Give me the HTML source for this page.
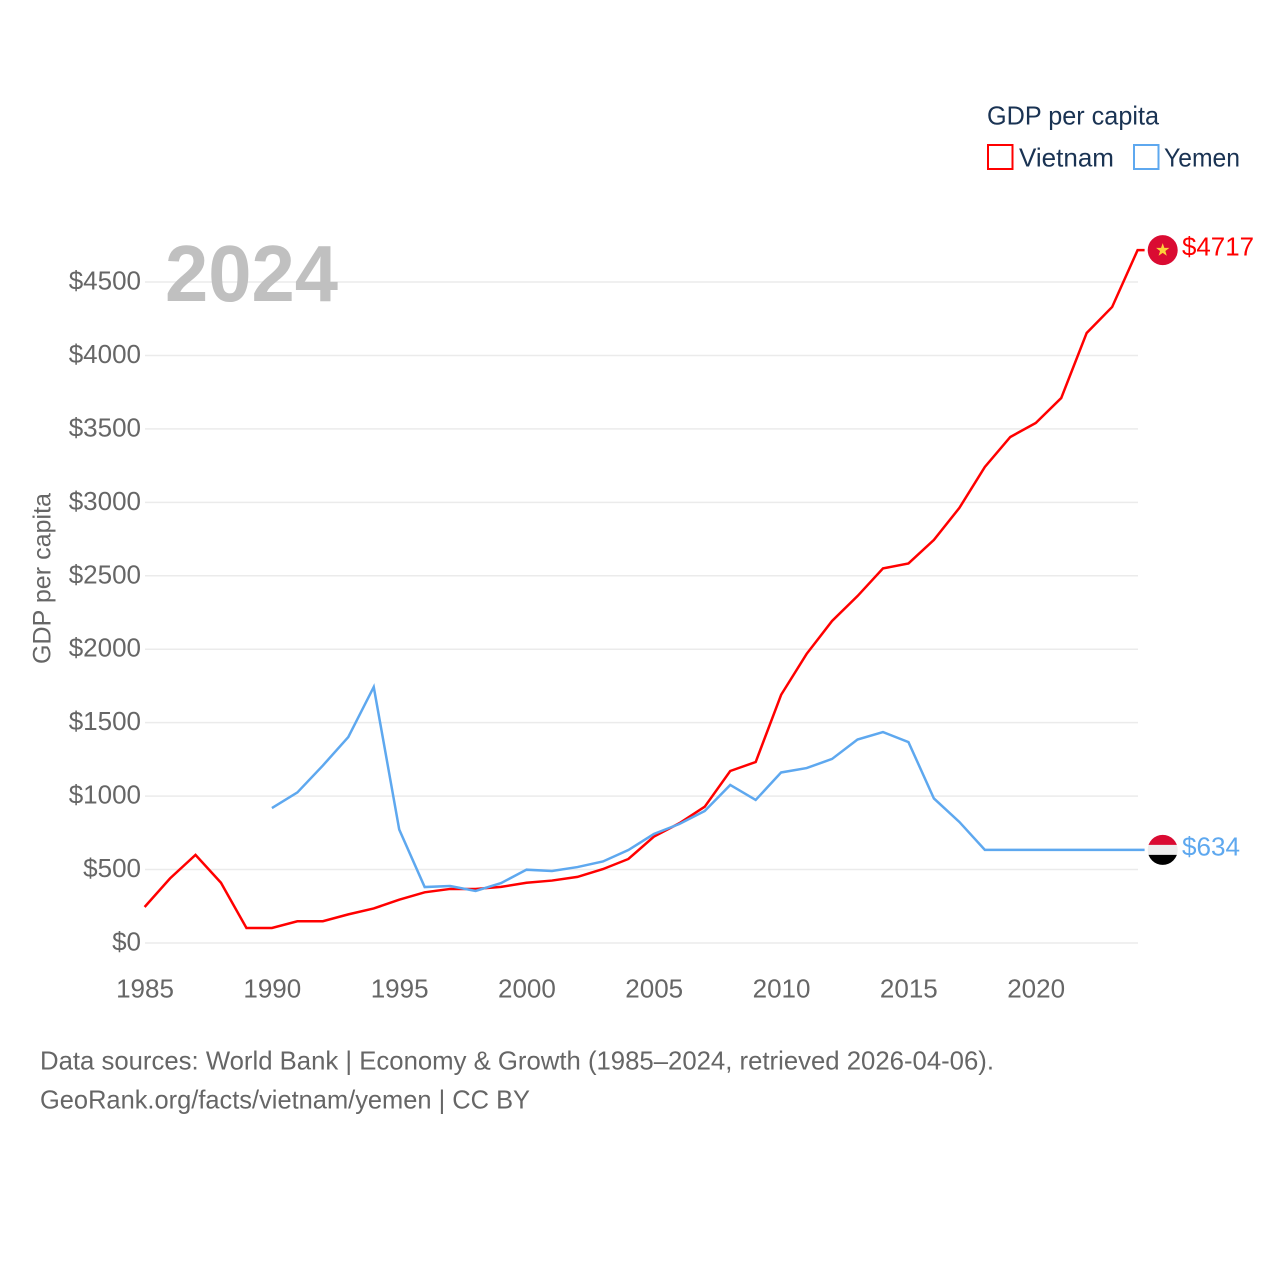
<!DOCTYPE html>
<html lang="en">
<head>
<meta charset="utf-8">
<title>GDP per capita: Vietnam and Yemen</title>
<style>
html,body{margin:0;padding:0;background:#fff;}
svg{display:block;}
text{font-family:"Liberation Sans",sans-serif;}
</style>
</head>
<body>
<svg id="chart" xmlns="http://www.w3.org/2000/svg" width="1280" height="1280" viewBox="0 0 1280 1280">
  <rect x="0" y="0" width="1280" height="1280" fill="#ffffff"/>
  <defs>
    <clipPath id="clip-vn"><circle id="clip-vn-circle" cx="1162.7" cy="249" r="15"/></clipPath>
    <clipPath id="clip-ye"><circle id="clip-ye-circle" cx="1162.7" cy="849" r="15"/></clipPath>
  </defs>
  <g id="grid"></g>
  <text x="165" y="301" font-size="80" font-weight="700" fill="#bdbdbd" fill-opacity="0.95" textLength="173" lengthAdjust="spacingAndGlyphs">2024</text>
  <g id="y-ticks"></g>
  <g id="x-ticks"></g>
  <text transform="translate(50.5 664) rotate(-90)" font-size="25" fill="#666666" textLength="171" lengthAdjust="spacingAndGlyphs">GDP per capita</text>
  <g id="series"></g>
  <g id="flag-vn">
    <g clip-path="url(#clip-vn)">
      <rect id="vn-bg" x="1147" y="233" width="32" height="32" fill="#da0b32"/>
      <polygon id="vn-star" points="0,-7 1.65,-2.2 6.65,-2.2 2.65,0.85 4.1,5.65 0,2.8 -4.1,5.65 -2.65,0.85 -6.65,-2.2 -1.65,-2.2" fill="#fdd03a"/>
    </g>
  </g>
  <g id="flag-ye">
    <g clip-path="url(#clip-ye)">
      <rect id="ye-w" x="1147" y="833" width="32" height="32" fill="#eeeeee"/>
      <rect id="ye-r" x="1147" y="833" width="32" height="11" fill="#da0b32"/>
      <rect id="ye-b" x="1147" y="854" width="32" height="12" fill="#000000"/>
    </g>
  </g>
  <text id="label-vn" x="1182" y="255.5" font-size="26" fill="#ff0000" textLength="72" lengthAdjust="spacingAndGlyphs"></text>
  <text id="label-ye" x="1182" y="855.5" font-size="26" fill="#5ea8ef" textLength="58" lengthAdjust="spacingAndGlyphs"></text>
  <g>
    <text x="987" y="124.5" font-size="26" fill="#1a3353" textLength="172" lengthAdjust="spacingAndGlyphs">GDP per capita</text>
    <g>
      <rect x="988" y="145" width="24.5" height="24" fill="none" stroke="#ff0000" stroke-width="2"/>
      <text x="1019" y="166.5" font-size="26" fill="#1a3353" textLength="95" lengthAdjust="spacingAndGlyphs">Vietnam</text>
    </g>
    <g>
      <rect x="1134" y="145" width="24.5" height="24" fill="none" stroke="#5ea8ef" stroke-width="2"/>
      <text x="1164" y="166.5" font-size="26" fill="#1a3353" textLength="76" lengthAdjust="spacingAndGlyphs">Yemen</text>
    </g>
  </g>
  <text x="40" y="1069.5" font-size="26" fill="#666666" textLength="954" lengthAdjust="spacingAndGlyphs">Data sources: World Bank | Economy &amp; Growth (1985–2024, retrieved 2026-04-06).</text>
  <text x="40" y="1108.5" font-size="26" fill="#666666" textLength="490" lengthAdjust="spacingAndGlyphs">GeoRank.org/facts/vietnam/yemen | CC BY</text>
</svg>
<script>
const years = [1985,1986,1987,1988,1989,1990,1991,1992,1993,1994,1995,1996,1997,1998,1999,2000,2001,2002,2003,2004,2005,2006,2007,2008,2009,2010,2011,2012,2013,2014,2015,2016,2017,2018,2019,2020,2021,2022,2023,2024];
const vietnam = [245,440,600,410,102,102,148,148,195,235,295,345,368,368,382,410,425,450,503,572,724,815,928,1171,1232,1690,1968,2192,2362,2550,2584,2744,2962,3241,3445,3540,3710,4153,4330,4717];
const yemen = [null,null,null,null,null,919,1025,1208,1402,1743,773,381,388,354,408,499,490,517,555,633,742,810,899,1076,974,1161,1191,1253,1385,1436,1368,984,824,634,634,634,634,634,634,634];
const yTicks = [0,500,1000,1500,2000,2500,3000,3500,4000,4500];
const xTicks = [1985,1990,1995,2000,2005,2010,2015,2020];
const vietnamLabel = "$4717";
const yemenLabel = "$634";

const NS = "http://www.w3.org/2000/svg";
function xScale(year){ return 144.6 + (year - 1985) * (1137.6 - 144.6) / 39; }
function yScale(v){ return 943 - v * (943 - 282) / 4500; }
function make(tag, attrs, parent){
  const el = document.createElementNS(NS, tag);
  for (const k in attrs) el.setAttribute(k, attrs[k]);
  parent.appendChild(el);
  return el;
}

const grid = document.getElementById("grid");
const yG = document.getElementById("y-ticks");
yTicks.forEach(function(t){
  const line = make("line", {x1:145, x2:1138, y1:yScale(t), y2:yScale(t), stroke:"#ebebeb", "stroke-width":1.5}, grid);
  
  
  const label = make("text", {x:141, y:yScale(t)+7.5, "text-anchor":"end", "font-size":26, fill:"#666666"}, yG);
  
  
  label.textContent = "$" + t;
});

const xG = document.getElementById("x-ticks");
xTicks.forEach(function(t){
  const label = make("text", {x:xScale(t)+0.4, y:997.5, "text-anchor":"middle", "font-size":26, fill:"#666666"}, xG);
  
  
  label.textContent = t;
});

function buildPath(values){
  let d = "", lastX = 0, lastY = 0;
  values.forEach(function(v, i){
    if (v === null) return;
    lastX = xScale(years[i]);
    lastY = yScale(v);
    d += (d ? "L" : "M") + lastX.toFixed(2) + " " + lastY.toFixed(2);
  });
  d += "L" + (lastX + 7) + " " + lastY.toFixed(2);
  return {d: d, y: lastY};
}

const seriesG = document.getElementById("series");
const yemenPath = buildPath(yemen);
const vietnamPath = buildPath(vietnam);
const vnLine = make("path", {d:vietnamPath.d, fill:"none", stroke:"#ff0000", "stroke-width":2.5, "stroke-linejoin":"miter"}, seriesG);


const yeLine = make("path", {d:yemenPath.d, fill:"none", stroke:"#5ea8ef", "stroke-width":2.5, "stroke-linejoin":"miter"}, seriesG);



document.getElementById("flag-vn").setAttribute("transform", "translate(0 " + (vietnamPath.y - 249) + ")");
document.getElementById("flag-ye").setAttribute("transform", "translate(0 " + (yemenPath.y - 849) + ")");
document.getElementById("vn-star").setAttribute("transform", "translate(1162.7 249)");
document.getElementById("label-vn").textContent = vietnamLabel;
document.getElementById("label-ye").textContent = yemenLabel;
</script>
</body>
</html>
